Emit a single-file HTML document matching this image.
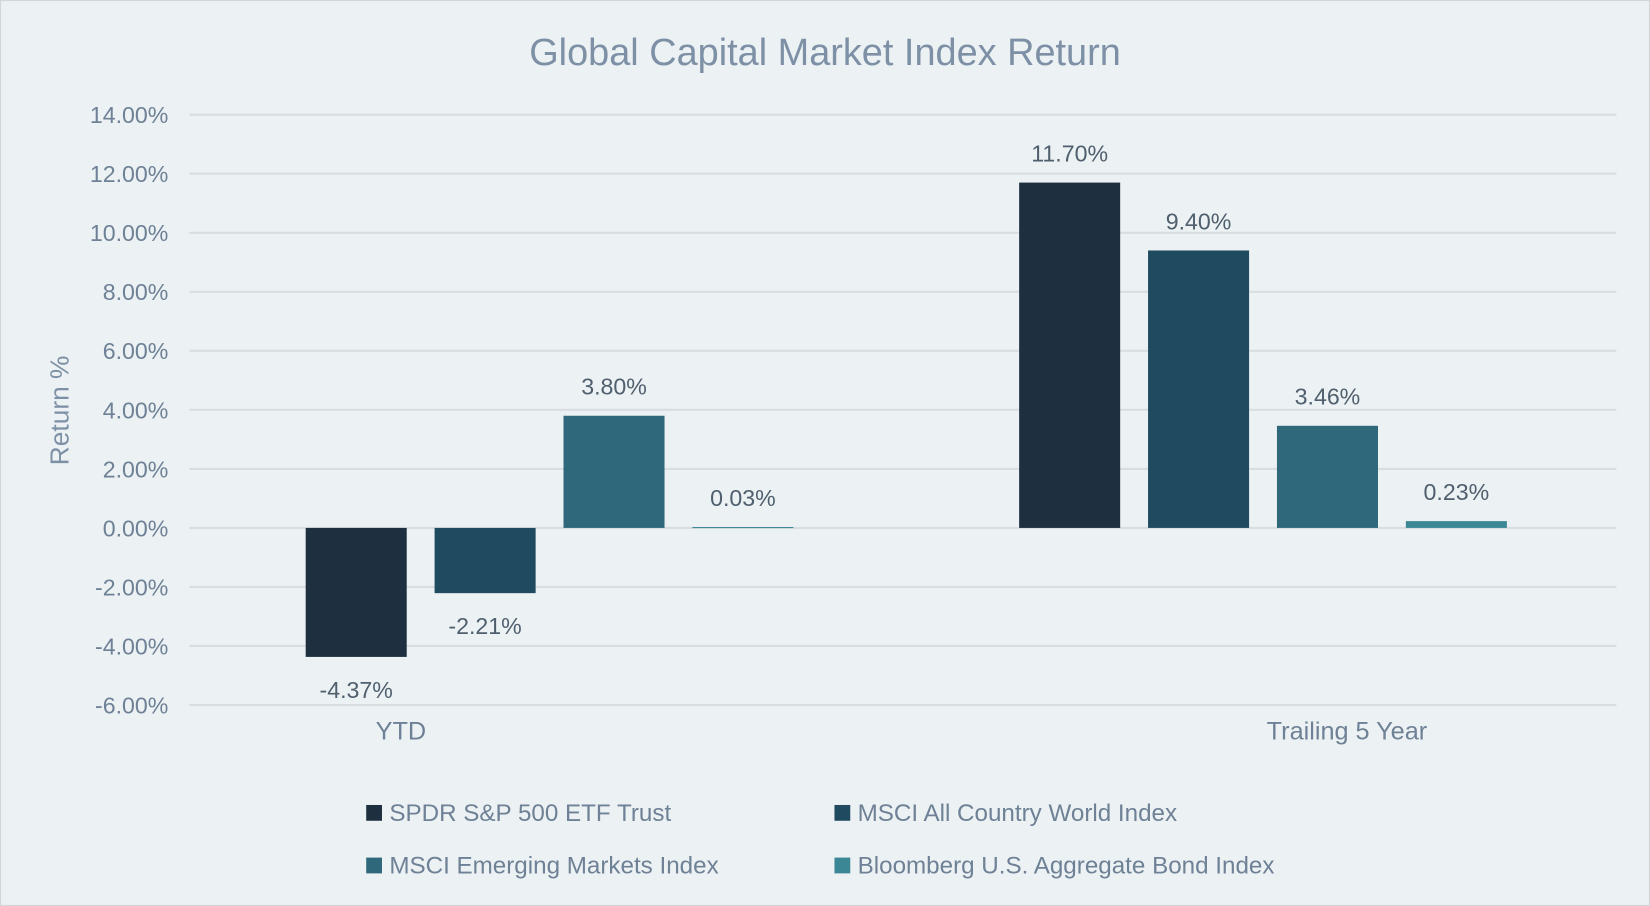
<!DOCTYPE html>
<html><head><meta charset="utf-8"><style>
html,body{margin:0;padding:0;background:#ecf1f3;}
svg{display:block;font-family:"Liberation Sans",sans-serif;}
</style></head><body>
<svg id="chart" width="1650" height="906" viewBox="0 0 1568 861" preserveAspectRatio="none" xmlns="http://www.w3.org/2000/svg">
<rect x="0.5" y="0.5" width="1567" height="860" fill="#ecf1f3" stroke="#d0d6da"/>
<text x="784" y="62" text-anchor="middle" font-size="36" fill="#7d90a6">Global Capital Market Index Return</text>
<text transform="translate(65,390) rotate(-90)" text-anchor="middle" font-size="25" fill="#7d90a6">Return %</text>
<g id="grid"></g><g id="bars"></g><g id="labels"></g><g id="legend"></g>
</svg>
<script>
const categories=["YTD","Trailing 5 Year"];
const seriesNames=["SPDR S&P 500 ETF Trust","MSCI All Country World Index","MSCI Emerging Markets Index","Bloomberg U.S. Aggregate Bond Index"];
const ytdValues=[-4.37,-2.21,3.80,0.03];
const fiveYearValues=[11.70,9.40,3.46,0.23];
const yTicks=[14,12,10,8,6,4,2,0,-2,-4,-6];
const colors=["#1e2f40","#204a5f","#2f687b","#3b8795"];
const NS="http://www.w3.org/2000/svg";
const x0=180,x1=1536,yTop=109,yBot=670,yMax=14,yMin=-6;
function y(v){return yTop+(yMax-v)/(yMax-yMin)*(yBot-yTop);}
const catW=(x1-x0)/categories.length;
function mk(tag,attrs,parent){const e=document.createElementNS(NS,tag);for(const k in attrs)e.setAttribute(k,attrs[k]);parent.appendChild(e);return e;}
const grid=document.getElementById('grid'),bars=document.getElementById('bars'),labels=document.getElementById('labels'),legend=document.getElementById('legend');
yTicks.forEach(t=>{
  const l=mk('line',{x1:x0,x2:x1,y1:y(t),y2:y(t),stroke:'#d7dde1','stroke-width':2},grid);
  
  
  const tx=mk('text',{x:160,y:y(t)+8,'text-anchor':'end','font-size':22,fill:'#6e8196'},grid);
  tx.textContent=t.toFixed(2)+'%';
  
  
});
const data=[ytdValues,fiveYearValues];
const labelX=[381,1280];
categories.forEach((c,ci)=>{
  data[ci].forEach((v,si)=>{
    const bx=x0+ci*catW+110.5+si*122.5;
    const top=Math.min(y(v),y(0)),h=Math.max(Math.abs(y(v)-y(0)),1);
    const r=mk('rect',{x:bx,y:top,width:96,height:h,fill:colors[si]},bars);
    
    
    const ly=v>=0?top-20:top+h+39;
    const t=mk('text',{x:bx+48,y:ly,'text-anchor':'middle','font-size':22,fill:'#4f5f6e'},labels);
    t.textContent=v.toFixed(2)+'%';
    
    
  });
  const ct=mk('text',{x:labelX[ci],y:703,'text-anchor':'middle','font-size':24,fill:'#6e8196'},labels);
  ct.textContent=c;
  
  
});
seriesNames.forEach((n,i)=>{
  const lx=i%2?793:348,ly=i<2?772:822;
  const g=mk('g',{},legend);
  
  
  mk('rect',{x:lx,y:ly-7,width:15,height:15,fill:colors[i]},g);
  const t=mk('text',{x:lx+22,y:ly+8,'font-size':23,fill:'#6e8196'},g);
  t.textContent=n;
});
</script>
</body></html>
